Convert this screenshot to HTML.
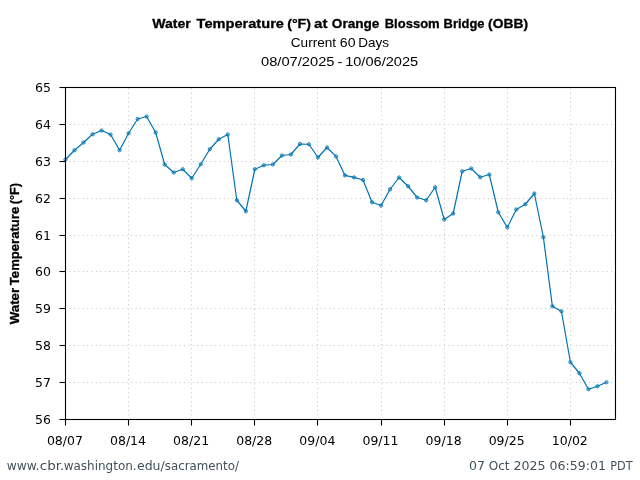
<!DOCTYPE html>
<html lang="en"><head><meta charset="utf-8"><title>Water Temperature (°F) at Orange Blossom Bridge (OBB)</title>
<style>html,body{margin:0;padding:0;background:#fff}body{width:640px;height:480px;overflow:hidden}svg{display:block}.t{font-family:"DejaVu Sans","Liberation Sans",sans-serif;font-size:12.5px;fill:#000}.h{font-family:"Liberation Sans","DejaVu Sans",sans-serif;fill:#000}.b{stroke:#000;stroke-width:0.3px}.f{font-family:"DejaVu Sans","Liberation Sans",sans-serif;font-size:12.5px;fill:#40505a}</style></head><body>
<svg width="640" height="480" viewBox="0 0 640 480">
<rect width="640" height="480" fill="#fff"/>
<g stroke="#c8c8c8" stroke-width="1" stroke-dasharray="1.1 3.303" fill="none">
<path d="M128.50 419.5V87.5" stroke-dashoffset="0.27"/>
<path d="M191.50 419.5V87.5" stroke-dashoffset="0.27"/>
<path d="M254.50 419.5V87.5" stroke-dashoffset="0.27"/>
<path d="M317.50 419.5V87.5" stroke-dashoffset="0.27"/>
<path d="M381.50 419.5V87.5" stroke-dashoffset="0.27"/>
<path d="M444.50 419.5V87.5" stroke-dashoffset="0.27"/>
<path d="M507.50 419.5V87.5" stroke-dashoffset="0.27"/>
<path d="M570.50 419.5V87.5" stroke-dashoffset="0.27"/>
<path d="M65.5 382.50H615.5" stroke-dashoffset="0.39"/>
<path d="M65.5 345.50H615.5" stroke-dashoffset="0.39"/>
<path d="M65.5 308.50H615.5" stroke-dashoffset="0.39"/>
<path d="M65.5 271.50H615.5" stroke-dashoffset="0.39"/>
<path d="M65.5 235.50H615.5" stroke-dashoffset="0.39"/>
<path d="M65.5 198.50H615.5" stroke-dashoffset="0.39"/>
<path d="M65.5 161.50H615.5" stroke-dashoffset="0.39"/>
<path d="M65.5 124.50H615.5" stroke-dashoffset="0.39"/>
</g>
<path d="M65.50 159.50 L74.52 150.25 L83.53 142.50 L92.55 134.25 L101.57 130.50 L110.58 134.50 L119.60 150.25 L128.61 133.25 L137.63 119.00 L146.65 116.50 L155.66 132.50 L164.68 164.50 L173.70 172.50 L182.71 169.25 L191.73 178.25 L200.75 164.25 L209.76 149.25 L218.78 139.25 L227.80 134.50 L236.81 200.25 L245.83 211.25 L254.84 169.25 L263.86 165.25 L272.88 164.50 L281.89 155.50 L290.91 154.50 L299.93 144.00 L308.94 144.25 L317.96 157.50 L326.98 147.50 L335.99 156.40 L345.01 175.40 L354.02 177.40 L363.04 180.00 L372.06 202.25 L381.07 205.50 L390.09 189.25 L399.11 177.50 L408.12 186.25 L417.14 197.50 L426.16 200.25 L435.17 187.25 L444.19 219.50 L453.20 213.50 L462.22 171.25 L471.24 168.50 L480.25 177.25 L489.27 174.50 L498.29 212.25 L507.30 227.40 L516.32 209.50 L525.34 204.25 L534.35 193.50 L543.37 237.25 L552.39 306.25 L561.40 311.25 L570.42 362.25 L579.43 373.25 L588.45 389.25 L597.47 386.25 L606.48 382.25" fill="none" stroke="#0173b2" stroke-width="1.2" stroke-linejoin="round"/>
<g fill="#0173b2" fill-opacity="0.3" stroke="#0173b2" stroke-width="0.8">
<circle cx="65.50" cy="159.50" r="1.65"/>
<circle cx="74.52" cy="150.25" r="1.65"/>
<circle cx="83.53" cy="142.50" r="1.65"/>
<circle cx="92.55" cy="134.25" r="1.65"/>
<circle cx="101.57" cy="130.50" r="1.65"/>
<circle cx="110.58" cy="134.50" r="1.65"/>
<circle cx="119.60" cy="150.25" r="1.65"/>
<circle cx="128.61" cy="133.25" r="1.65"/>
<circle cx="137.63" cy="119.00" r="1.65"/>
<circle cx="146.65" cy="116.50" r="1.65"/>
<circle cx="155.66" cy="132.50" r="1.65"/>
<circle cx="164.68" cy="164.50" r="1.65"/>
<circle cx="173.70" cy="172.50" r="1.65"/>
<circle cx="182.71" cy="169.25" r="1.65"/>
<circle cx="191.73" cy="178.25" r="1.65"/>
<circle cx="200.75" cy="164.25" r="1.65"/>
<circle cx="209.76" cy="149.25" r="1.65"/>
<circle cx="218.78" cy="139.25" r="1.65"/>
<circle cx="227.80" cy="134.50" r="1.65"/>
<circle cx="236.81" cy="200.25" r="1.65"/>
<circle cx="245.83" cy="211.25" r="1.65"/>
<circle cx="254.84" cy="169.25" r="1.65"/>
<circle cx="263.86" cy="165.25" r="1.65"/>
<circle cx="272.88" cy="164.50" r="1.65"/>
<circle cx="281.89" cy="155.50" r="1.65"/>
<circle cx="290.91" cy="154.50" r="1.65"/>
<circle cx="299.93" cy="144.00" r="1.65"/>
<circle cx="308.94" cy="144.25" r="1.65"/>
<circle cx="317.96" cy="157.50" r="1.65"/>
<circle cx="326.98" cy="147.50" r="1.65"/>
<circle cx="335.99" cy="156.40" r="1.65"/>
<circle cx="345.01" cy="175.40" r="1.65"/>
<circle cx="354.02" cy="177.40" r="1.65"/>
<circle cx="363.04" cy="180.00" r="1.65"/>
<circle cx="372.06" cy="202.25" r="1.65"/>
<circle cx="381.07" cy="205.50" r="1.65"/>
<circle cx="390.09" cy="189.25" r="1.65"/>
<circle cx="399.11" cy="177.50" r="1.65"/>
<circle cx="408.12" cy="186.25" r="1.65"/>
<circle cx="417.14" cy="197.50" r="1.65"/>
<circle cx="426.16" cy="200.25" r="1.65"/>
<circle cx="435.17" cy="187.25" r="1.65"/>
<circle cx="444.19" cy="219.50" r="1.65"/>
<circle cx="453.20" cy="213.50" r="1.65"/>
<circle cx="462.22" cy="171.25" r="1.65"/>
<circle cx="471.24" cy="168.50" r="1.65"/>
<circle cx="480.25" cy="177.25" r="1.65"/>
<circle cx="489.27" cy="174.50" r="1.65"/>
<circle cx="498.29" cy="212.25" r="1.65"/>
<circle cx="507.30" cy="227.40" r="1.65"/>
<circle cx="516.32" cy="209.50" r="1.65"/>
<circle cx="525.34" cy="204.25" r="1.65"/>
<circle cx="534.35" cy="193.50" r="1.65"/>
<circle cx="543.37" cy="237.25" r="1.65"/>
<circle cx="552.39" cy="306.25" r="1.65"/>
<circle cx="561.40" cy="311.25" r="1.65"/>
<circle cx="570.42" cy="362.25" r="1.65"/>
<circle cx="579.43" cy="373.25" r="1.65"/>
<circle cx="588.45" cy="389.25" r="1.65"/>
<circle cx="597.47" cy="386.25" r="1.65"/>
<circle cx="606.48" cy="382.25" r="1.65"/>
</g>
<g stroke="#000" stroke-width="1.1" fill="none">
<path d="M65.50 419.5v6"/>
<path d="M128.50 419.5v6"/>
<path d="M191.50 419.5v6"/>
<path d="M254.50 419.5v6"/>
<path d="M317.50 419.5v6"/>
<path d="M381.50 419.5v6"/>
<path d="M444.50 419.5v6"/>
<path d="M507.50 419.5v6"/>
<path d="M570.50 419.5v6"/>
<path d="M65.5 419.50h-6"/>
<path d="M65.5 382.50h-6"/>
<path d="M65.5 345.50h-6"/>
<path d="M65.5 308.50h-6"/>
<path d="M65.5 271.50h-6"/>
<path d="M65.5 235.50h-6"/>
<path d="M65.5 198.50h-6"/>
<path d="M65.5 161.50h-6"/>
<path d="M65.5 124.50h-6"/>
<path d="M65.5 87.50h-6"/>
<rect x="65.5" y="87.5" width="550.0" height="332.0" stroke-width="1.1"/>
</g>
<g class="t" text-anchor="middle">
<text x="64.90" y="445">08/07</text>
<text x="128.01" y="445">08/14</text>
<text x="191.13" y="445">08/21</text>
<text x="254.24" y="445">08/28</text>
<text x="317.36" y="445">09/04</text>
<text x="380.47" y="445">09/11</text>
<text x="443.59" y="445">09/18</text>
<text x="506.70" y="445">09/25</text>
<text x="569.82" y="445">10/02</text>
</g>
<g class="t" text-anchor="end">
<text x="51" y="424.00">56</text>
<text x="51" y="387.11">57</text>
<text x="51" y="350.22">58</text>
<text x="51" y="313.33">59</text>
<text x="51" y="276.44">60</text>
<text x="51" y="239.56">61</text>
<text x="51" y="202.67">62</text>
<text x="51" y="165.78">63</text>
<text x="51" y="128.89">64</text>
<text x="51" y="92.00">65</text>
</g>
<text class="h b" font-size="13.6" font-weight="bold"><tspan x="152.29" y="27.8" textLength="38.57" lengthAdjust="spacingAndGlyphs">Water</tspan> <tspan x="196.63" y="27.8" textLength="87.30" lengthAdjust="spacingAndGlyphs">Temperature</tspan> <tspan x="287.19" y="27.8" textLength="23.87" lengthAdjust="spacingAndGlyphs">(°F)</tspan> <tspan x="314.08" y="27.8" textLength="13.37" lengthAdjust="spacingAndGlyphs">at</tspan> <tspan x="331.81" y="27.8" textLength="47.63" lengthAdjust="spacingAndGlyphs">Orange</tspan> <tspan x="384.72" y="27.8" textLength="54.98" lengthAdjust="spacingAndGlyphs">Blossom</tspan> <tspan x="443.59" y="27.8" textLength="40.88" lengthAdjust="spacingAndGlyphs">Bridge</tspan> <tspan x="488.02" y="27.8" textLength="40.01" lengthAdjust="spacingAndGlyphs">(OBB)</tspan></text>
<text class="h" font-size="13.3" font-weight="normal"><tspan x="290.78" y="46.9" textLength="45.37" lengthAdjust="spacingAndGlyphs">Current</tspan> <tspan x="339.84" y="46.9" textLength="15.67" lengthAdjust="spacingAndGlyphs">60</tspan> <tspan x="358.34" y="46.9" textLength="30.81" lengthAdjust="spacingAndGlyphs">Days</tspan></text>
<text class="h" font-size="12.5" font-weight="normal"><tspan x="261.04" y="65.8" textLength="73.48" lengthAdjust="spacingAndGlyphs">08/07/2025</tspan> <tspan x="337.57" y="65.8" textLength="4.85" lengthAdjust="spacingAndGlyphs">-</tspan> <tspan x="345.16" y="65.8" textLength="72.98" lengthAdjust="spacingAndGlyphs">10/06/2025</tspan></text>
<text class="h b" transform="translate(18.7 0) rotate(-90)" font-size="12.6" font-weight="bold"><tspan x="-324.17" y="0" textLength="36.29" lengthAdjust="spacingAndGlyphs">Water</tspan> <tspan x="-285.19" y="0" textLength="78.43" lengthAdjust="spacingAndGlyphs">Temperature</tspan> <tspan x="-204.25" y="0" textLength="21.32" lengthAdjust="spacingAndGlyphs">(°F)</tspan></text>
<text class="f" font-size="12.5" font-weight="normal"><tspan x="6.77" y="469.8" textLength="32.59" lengthAdjust="spacingAndGlyphs">www.</tspan><tspan x="39.75" y="469.8" textLength="24.54" lengthAdjust="spacingAndGlyphs">cbr.</tspan><tspan x="63.63" y="469.8" textLength="73.00" lengthAdjust="spacingAndGlyphs">washington.</tspan><tspan x="136.97" y="469.8" textLength="27.71" lengthAdjust="spacingAndGlyphs">edu/</tspan><tspan x="164.87" y="469.8" textLength="74.10" lengthAdjust="spacingAndGlyphs">sacramento/</tspan></text>
<text class="f" font-size="12.5" font-weight="normal"><tspan x="469.10" y="469.8" textLength="15.96" lengthAdjust="spacingAndGlyphs">07</tspan> <tspan x="488.73" y="469.8" textLength="20.75" lengthAdjust="spacingAndGlyphs">Oct</tspan> <tspan x="513.53" y="469.8" textLength="32.07" lengthAdjust="spacingAndGlyphs">2025</tspan> <tspan x="549.61" y="469.8" textLength="56.26" lengthAdjust="spacingAndGlyphs">06:59:01</tspan> <tspan x="610.21" y="469.8" textLength="22.32" lengthAdjust="spacingAndGlyphs">PDT</tspan></text>
</svg></body></html>
